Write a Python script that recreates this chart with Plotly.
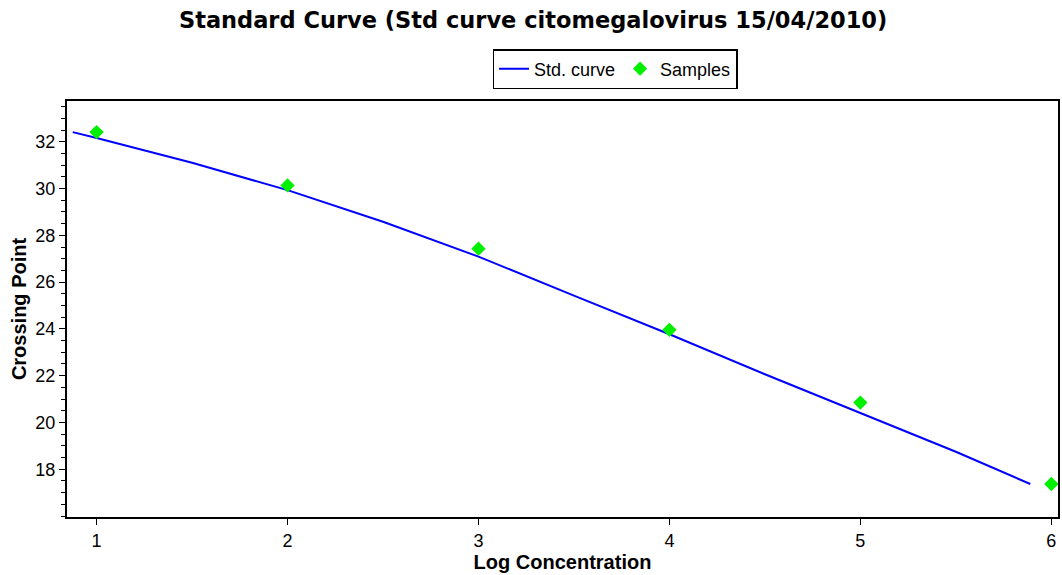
import plotly.graph_objects as go

curve_x = [0.875, 1, 1.5, 2, 2.5, 3, 3.5, 4, 4.5, 5, 5.5, 5.89]
curve_y = [32.41, 32.16, 31.1, 29.93, 28.58, 27.09, 25.42, 23.77, 22.06, 20.41, 18.75, 17.37]

sample_x = [1, 2, 3, 4, 5, 6]
sample_y = [32.41, 30.13, 27.43, 23.96, 20.85, 17.37]

x_ticks = [1, 2, 3, 4, 5, 6]
y_ticks = [18, 20, 22, 24, 26, 28, 30, 32]

fig = go.Figure()
fig.add_trace(go.Scatter(x=curve_x, y=curve_y, mode="lines", name="Std. curve",
                         line=dict(color="rgb(0,0,255)", width=2)))
fig.add_trace(go.Scatter(x=sample_x, y=sample_y, mode="markers", name="Samples",
                         marker=dict(symbol="diamond", color="rgb(0,240,0)", size=11,
                                     line=dict(width=0)),
                         cliponaxis=False))

fig.update_layout(
    width=1062, height=575,
    margin=dict(l=67, r=2, t=101, b=58),
    paper_bgcolor="white", plot_bgcolor="white",
    title=dict(text="<b>Standard Curve (Std curve citomegalovirus 15/04/2010)</b>",
               x=0.502, xanchor="center", y=0.965, yanchor="middle",
               font=dict(family="DejaVu Sans", size=22.5, color="black")),
    showlegend=True,
    legend=dict(orientation="h", x=0.553, xanchor="center", y=1.125, yanchor="top",
                bordercolor="black", borderwidth=1.5, bgcolor="white",
                font=dict(family="Liberation Sans", size=18, color="black"),
                itemwidth=30, tracegroupgap=0),
    font=dict(family="Liberation Sans", color="black"),
)

fig.update_xaxes(range=[0.845, 6.035], tickvals=x_ticks, ticktext=[str(v) for v in x_ticks],
                 showgrid=False, zeroline=False, showline=True, linecolor="black", linewidth=2,
                 mirror=True, ticks="outside", ticklen=6, tickcolor="black", tickwidth=1,
                 tickfont=dict(family="Liberation Sans", size=18, color="black"),
                 title=dict(text="<b>Log Concentration</b>", standoff=4,
                            font=dict(family="Liberation Sans", size=20, color="black")))
fig.update_yaxes(range=[15.96, 33.74], tickvals=y_ticks, ticktext=[str(v) for v in y_ticks],
                 showgrid=False, zeroline=False, showline=True, linecolor="black", linewidth=2,
                 mirror=True, ticks="outside", ticklen=6, tickcolor="black", tickwidth=1,
                 minor=dict(dtick=0.5, tick0=0, ticks="outside", ticklen=4, tickcolor="black",
                            showgrid=False),
                 tickfont=dict(family="Liberation Sans", size=18, color="black"),
                 title=dict(text="<b>Crossing Point</b>", standoff=3,
                            font=dict(family="Liberation Sans", size=20, color="black")))

fig.write_html("out.html")
